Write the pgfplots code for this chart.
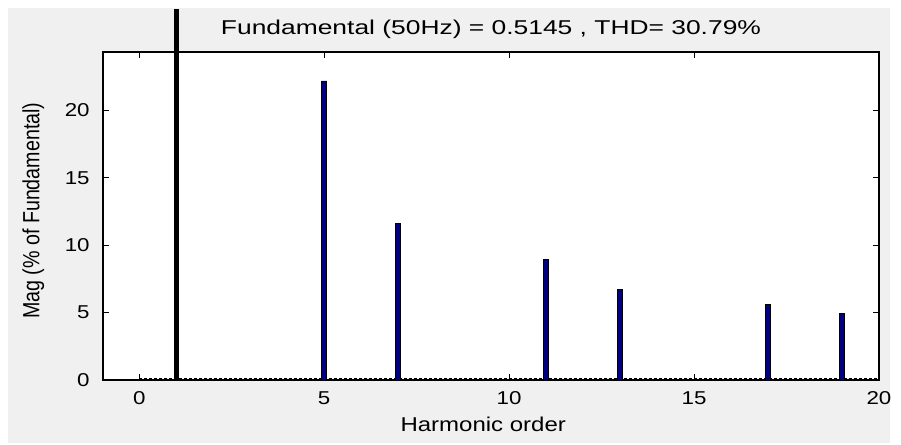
\documentclass[border=0pt]{standalone}
\usepackage{fontspec}
\setmainfont{Liberation Sans}[FakeStretch=1.2]
\newfontfamily\titlefont{Liberation Sans}[FakeStretch=1.32]
\newfontfamily\ylabfont{Liberation Sans}[FakeStretch=0.84]
\usepackage{pgfplots}
\pgfplotsset{compat=1.18}
\definecolor{figgray}{RGB}{240,240,240}
\definecolor{barblue}{RGB}{0,0,128}

\begin{document}
\begin{tikzpicture}
\path[use as bounding box] (0,0) rectangle (450.5pt,222.5pt);
\fill[figgray] (4pt,1pt) rectangle (445pt,218.5pt);
\begin{axis}[
  at={(51.5pt,32.5pt)}, anchor=south west,
  scale only axis, width=388pt, height=164pt,
  xmin=-0.98, xmax=20, ymin=0, ymax=24.35,
  clip=false,
  axis background/.style={fill=white},
  axis line style={black, line width=0.7pt},
  tick align=inside, tick pos=both,
  major tick length=3pt,
  tick style={black, line width=0.5pt},
  xtick={0,5,10,15,20}, ytick={0,5,10,15,20},
  /pgf/number format/assume math mode=true,
  ticklabel style={font=\fontsize{9.3}{11}\selectfont},
  xticklabel style={anchor=base, yshift=-12.5pt},
  yticklabel style={anchor=east, inner sep=0pt, xshift=-6.5pt},
  title={Fundamental (50Hz) = 0.5145 , THD= 30.79\%},
  every axis title/.style={at={(axis description cs:0.5,1)}, anchor=base,
    yshift=8.75pt, font=\titlefont\fontsize{10}{12}\selectfont},
  xlabel={Harmonic order},
  xlabel style={at={(axis description cs:0.49,-0.1585)}, anchor=base,
    font=\fontsize{10}{12}\selectfont},
  ylabel={Mag (\% of Fundamental)},
  ylabel style={at={(axis description cs:-0.0897,0.516)}, anchor=center, rotate=0,
    font=\ylabfont\fontsize{11.7}{13}\selectfont},
]
% interharmonic floor
\addplot[black, line width=0.7pt, dash pattern=on 1.5pt off 1pt, forget plot]
  coordinates {(0,0.07) (20,0.07)};
% fundamental (runs off the top of the figure)
\addplot[ybar, bar shift=0pt, bar width=2pt, fill=black, draw=black, line width=0.3pt]
  coordinates {(1,27.55)};
% harmonics
\addplot[ybar, bar shift=0pt, bar width=2.6pt, fill=barblue, draw=black, line width=0.4pt]
  coordinates {(5,22.2) (7,11.65) (11,8.95) (13,6.75) (17,5.6) (19,4.95)};
\end{axis}
\end{tikzpicture}
\end{document}
